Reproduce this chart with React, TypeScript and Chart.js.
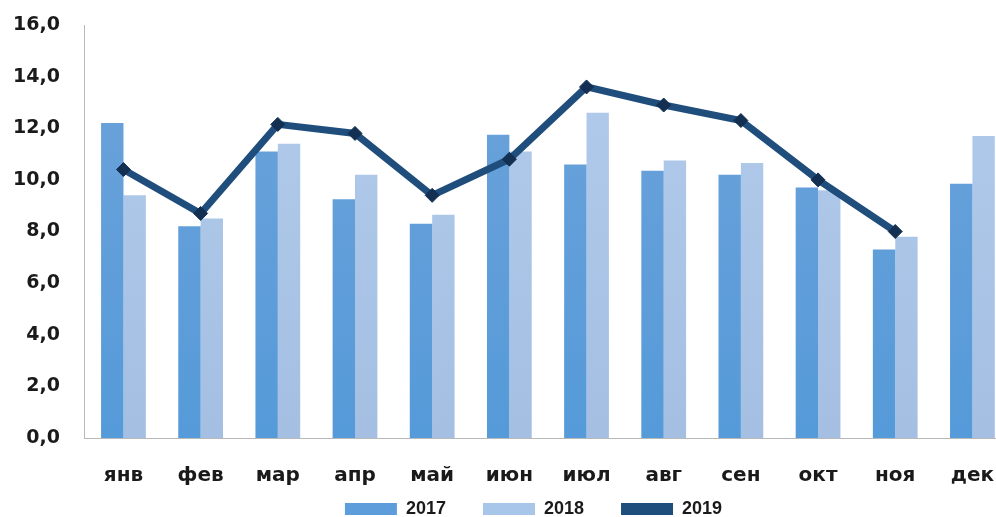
import React, { useEffect, useRef } from "react";
import { Chart, registerables } from "chart.js";

Chart.register(...registerables);

const months = ["янв", "фев", "мар", "апр", "май", "июн", "июл", "авг", "сен", "окт", "ноя", "дек"];
const values2017 = [12.2, 8.2, 11.1, 9.25, 8.3, 11.75, 10.6, 10.35, 10.2, 9.7, 7.3, 9.85];
const values2018 = [9.4, 8.5, 11.4, 10.2, 8.65, 11.1, 12.6, 10.75, 10.65, 9.6, 7.8, 11.7];
const values2019 = [10.4, 8.7, 12.15, 11.8, 9.4, 10.8, 13.6, 12.9, 12.3, 10.0, 8.0, null];
const yTicks = [0, 2, 4, 6, 8, 10, 12, 14, 16];

const FONT = "'DejaVu Sans', sans-serif";
const LFONT = "'Liberation Sans', Arial, sans-serif";

function vGrad(ctx: any, top: string, bottom: string) {
  const chart = ctx.chart;
  const area = chart.chartArea;
  if (!area) return bottom;
  const g = chart.ctx.createLinearGradient(0, area.top, 0, area.bottom);
  g.addColorStop(0, top);
  g.addColorStop(1, bottom);
  return g;
}

export default function App() {
  const ref = useRef<HTMLCanvasElement | null>(null);
  useEffect(() => {
    if (!ref.current) return;
    const chart = new Chart(ref.current, {
      type: "bar",
      data: {
        labels: months,
        datasets: [
          {
            type: "bar",
            label: "2017",
            data: values2017,
            backgroundColor: (c: any) => vGrad(c, "#6ea3da", "#559ad9"),
            borderWidth: 0,
            order: 1,
          },
          {
            type: "bar",
            label: "2018",
            data: values2018,
            backgroundColor: (c: any) => vGrad(c, "#b3cced", "#a4bfe2"),
            borderWidth: 0,
            order: 1,
          },
          {
            type: "line",
            label: "2019",
            data: values2019,
            borderColor: "#1f4e7d",
            backgroundColor: "#1f4e7d",
            borderWidth: 7,
            pointStyle: "rectRot",
            pointRadius: 7,
            pointBackgroundColor: "#132f52",
            pointBorderColor: "#132f52",
            pointBorderWidth: 1,
            spanGaps: false,
            tension: 0,
            order: 0,
          } as any,
        ],
      },
      options: {
        responsive: false,
        animation: false,
        layout: { padding: { left: -12, right: 53, top: 25, bottom: 0 } },
        datasets: { bar: { barPercentage: 1, categoryPercentage: 0.58 } },
        plugins: {
          legend: {
            position: "bottom",
            labels: {
              font: { family: LFONT, size: 18, weight: "bold" },
              color: "#1a1a1a",
              boxWidth: 52,
              boxHeight: 12,
              padding: 2,
              generateLabels: (c: any) => {
                const items = Chart.defaults.plugins.legend.labels.generateLabels(c);
                items.sort((a: any, b: any) => a.datasetIndex - b.datasetIndex);
                const colors = ["#5d9ddc", "#a8c6ea", "#1f4e7d"];
                const mapped = items.map((it: any, i: number) => ({
                  ...it,
                  text: i < items.length - 1 ? it.text + "       " : it.text,
                  fillStyle: colors[i],
                  lineWidth: 0,
                }));
                return [
                  {
                    text: " ",
                    fillStyle: "rgba(0,0,0,0)",
                    strokeStyle: "rgba(0,0,0,0)",
                    lineWidth: 0,
                    hidden: false,
                    datasetIndex: -1,
                  },
                  ...mapped,
                ];
              },
            },
          },
          tooltip: { enabled: false },
        },
        scales: {
          x: {
            grid: { display: false, drawTicks: false },
            border: { display: true, color: "#b8b8b8", width: 1 },
            ticks: {
              font: { family: FONT, size: 20, weight: "bold" },
              color: "#1a1a1a",
              padding: 26,
            },
            afterFit: (scale: any) => {
              scale.height -= 16;
            },
          },
          y: {
            min: 0,
            max: 16,
            afterBuildTicks: (axis: any) => {
              axis.ticks = yTicks.map((v) => ({ value: v }));
            },
            afterFit: (scale: any) => {
              scale.paddingTop = 0;
            },
            grid: { display: false, drawTicks: false },
            border: { display: true, color: "#b8b8b8", width: 1 },
            ticks: {
              font: { family: FONT, size: 19, weight: "bold" },
              color: "#1a1a1a",
              padding: 25,
              callback: (v: any) => Number(v).toFixed(1).replace(".", ","),
            },
          },
        },
      },
    });
    return () => chart.destroy();
  }, []);
  return (
    <div style={{ position: "fixed", left: 0, top: 0, width: 996, height: 517, overflow: "hidden", background: "#fff" }}>
      <canvas ref={ref} width={1064} height={528} style={{ display: "block" }} />
    </div>
  );
}
